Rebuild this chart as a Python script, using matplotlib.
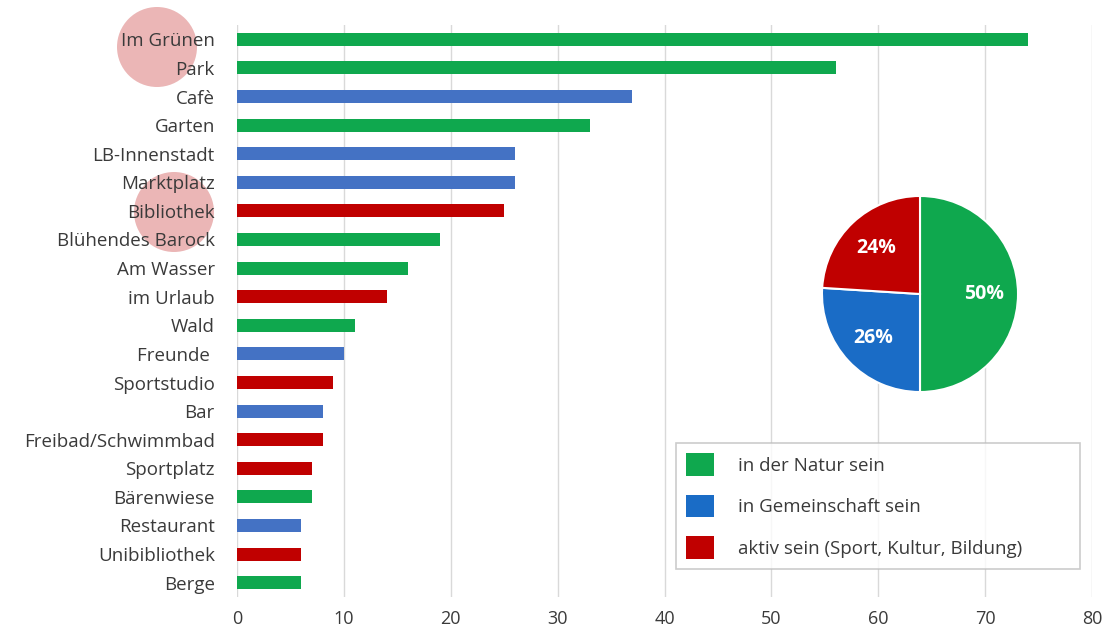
import matplotlib
matplotlib.use("Agg")
import matplotlib.pyplot as plt
from matplotlib.patches import Patch, Ellipse
import numpy as np

categories = ["Im Grünen", "Park", "Cafè", "Garten", "LB-Innenstadt", "Marktplatz",
              "Bibliothek", "Blühendes Barock", "Am Wasser", "im Urlaub", "Wald",
              "Freunde ", "Sportstudio", "Bar", "Freibad/Schwimmbad", "Sportplatz",
              "Bärenwiese", "Restaurant", "Unibibliothek", "Berge"]
values = [74, 56, 37, 33, 26, 26, 25, 19, 16, 14, 11, 10, 9, 8, 8, 7, 7, 6, 6, 6]
groups = ["N", "N", "G", "N", "G", "G", "A", "N", "N", "A", "N",
          "G", "A", "G", "A", "A", "N", "G", "A", "N"]

pie_labels = ["in der Natur sein", "in Gemeinschaft sein", "aktiv sein (Sport, Kultur, Bildung)"]
pie_values = [50, 26, 24]
pie_texts = ["50%", "26%", "24%"]

bar_colors = {"N": "#0FA84E", "G": "#4472C4", "A": "#C00000"}
pie_colors = ["#0FA84E", "#1A6CC6", "#C00000"]
x_ticks = [0, 10, 20, 30, 40, 50, 60, 70, 80]

plt.rcParams['font.family'] = ['Open Sans', 'DejaVu Sans']

W, H = 1111, 637
fig = plt.figure(figsize=(W / 100, H / 100), dpi=100)

# decorative highlight circles
for cx, cy, r in [(157, 47, 40), (174, 212, 40)]:
    fig.patches.append(Ellipse((cx / W, 1 - cy / H), 2 * r / W, 2 * r / H,
                               transform=fig.transFigure, facecolor="#E6A4A4",
                               edgecolor="none", alpha=0.8, zorder=0))

ax = fig.add_axes([237 / W, 1 - 597 / H, (1092 - 237) / W, (597 - 25) / H])
ax.set_zorder(1)
ax.patch.set_alpha(0)
ypos = list(range(len(categories)))
ax.barh(ypos, values, height=0.46, color=[bar_colors[g] for g in groups], zorder=3)
ax.set_ylim(len(categories) - 0.5, -0.5)
ax.set_xlim(0, 80)
ax.set_xticks(x_ticks)
ax.set_yticks(ypos)
ax.set_yticklabels(categories, fontsize=13.5, color="#3A3A3A")
ax.tick_params(axis="x", labelsize=13, colors="#3A3A3A", length=0, pad=9)
ax.tick_params(axis="y", length=0, pad=16)
ax.grid(axis="x", color="#D9D9D9", linewidth=1, zorder=0)
for s in ax.spines.values():
    s.set_visible(False)

# pie inset
pax = fig.add_axes([820 / W, 1 - 393 / H, 200 / W, 198 / H])
pax.set_zorder(4)
wedges, texts = pax.pie(pie_values, colors=pie_colors, startangle=90, counterclock=False,
                        wedgeprops=dict(edgecolor="white", linewidth=1.5),
                        labels=None)
ang0 = 90.0
for v, t in zip(pie_values, pie_texts):
    mid = ang0 - v * 3.6 / 2
    ang0 -= v * 3.6
    r = 0.65
    pax.text(r * np.cos(np.radians(mid)), r * np.sin(np.radians(mid)), t,
             ha="center", va="center", color="white", fontsize=14, fontweight="bold")
pax.set_xlim(-1.01, 1.01)
pax.set_ylim(-1.01, 1.01)
pax.set_aspect("equal")

# legend
handles = [Patch(facecolor=c, edgecolor="none") for c in pie_colors]
leg = fig.legend(handles, pie_labels, loc="upper left",
                 bbox_to_anchor=(676 / W, 1 - 568 / H, 404 / W, 125 / H), mode="expand",
                 fontsize=13.5, frameon=True, fancybox=False, edgecolor="#BFBFBF",
                 handlelength=1.45, handleheight=1.45, handletextpad=1.3,
                 labelspacing=1.03, borderpad=0.55, borderaxespad=0)
for t in leg.get_texts():
    t.set_color("#3A3A3A")
leg.get_frame().set_linewidth(1.2)
leg.set_zorder(5)

fig.savefig("out.png", dpi=100, facecolor="white")
